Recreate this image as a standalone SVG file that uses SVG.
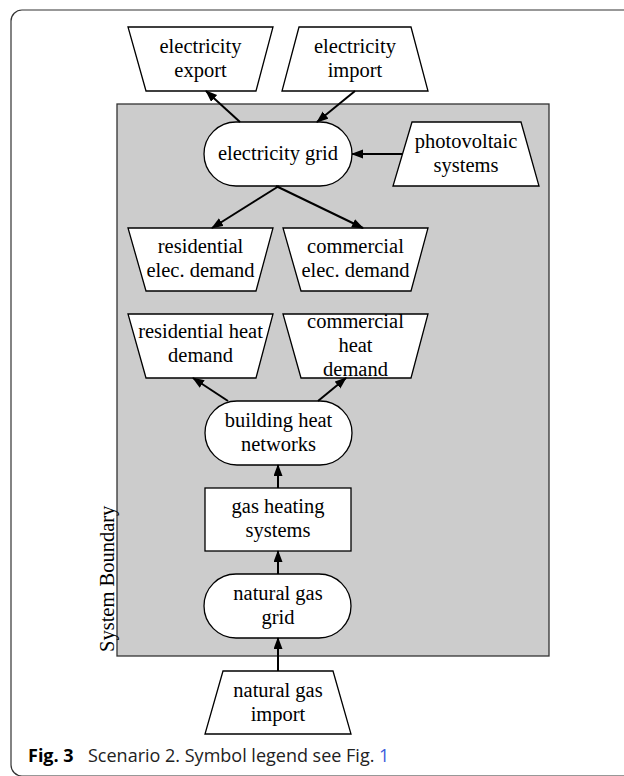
<svg xmlns="http://www.w3.org/2000/svg" width="624" height="776" viewBox="0 0 624 776">
<defs>
<style>
.n{fill:#fff;stroke:#000;stroke-width:1.3}
.t{font-family:"Liberation Serif","Times New Roman",serif;font-size:20.5px;fill:#000;text-anchor:middle}
.c line{stroke:#000;stroke-width:2;marker-end:url(#ah)}
.cap{font-family:"Open Sans","Noto Sans",sans-serif;font-size:18px;fill:#222}
</style>
<marker id="ah" markerUnits="userSpaceOnUse" markerWidth="12" markerHeight="10" refX="11" refY="4.5" orient="auto">
<path d="M0,0 L12,4.5 L0,9 Z" fill="#000"/>
</marker>
</defs>
<rect x="11" y="10" width="660" height="766" rx="11" fill="#fff" stroke="#333" stroke-width="1.2"/>
<g id="system-boundary">
<rect x="117" y="104" width="432" height="552" fill="#cccccc" stroke="#333" stroke-width="1.3"/>
<text class="t" style="text-anchor:start" transform="translate(114,652) rotate(-90)">System Boundary</text>
</g>
<g id="electricity-export">
<polygon class="n" points="128,27 273,27 256,91 146,91"/>
<text class="t" x="200.5" y="53">electricity</text>
<text class="t" x="200.5" y="77">export</text>
</g>
<g id="electricity-import">
<polygon class="n" points="299,27 411,27 428,91 282,91"/>
<text class="t" x="355" y="53">electricity</text>
<text class="t" x="355" y="77">import</text>
</g>
<g id="electricity-grid">
<rect class="n" x="204" y="122" width="148" height="64" rx="32"/>
<text class="t" x="278" y="160">electricity grid</text>
</g>
<g id="photovoltaic-systems">
<polygon class="n" points="412,122 521,122 539,186 393,186"/>
<text class="t" x="466" y="148">photovoltaic</text>
<text class="t" x="466" y="172">systems</text>
</g>
<g id="residential-elec-demand">
<polygon class="n" points="128,228 273,228 256,291 146,291"/>
<text class="t" x="200.5" y="253">residential</text>
<text class="t" x="200.5" y="277">elec. demand</text>
</g>
<g id="commercial-elec-demand">
<polygon class="n" points="283,228 428,228 411,291 301,291"/>
<text class="t" x="355.5" y="253">commercial</text>
<text class="t" x="355.5" y="277">elec. demand</text>
</g>
<g id="residential-heat-demand">
<polygon class="n" points="128,314 273,314 256,378 146,378"/>
<text class="t" x="200.5" y="338">residential heat</text>
<text class="t" x="200.5" y="362">demand</text>
</g>
<g id="commercial-heat-demand">
<polygon class="n" points="283,314 428,314 411,378 301,378"/>
<text class="t" x="355.5" y="328">commercial</text>
<text class="t" x="355.5" y="352">heat</text>
<text class="t" x="355.5" y="376">demand</text>
</g>
<g id="building-heat-networks">
<rect class="n" x="205" y="401" width="147" height="64" rx="32"/>
<text class="t" x="278.5" y="427">building heat</text>
<text class="t" x="278.5" y="451">networks</text>
</g>
<g id="gas-heating-systems">
<rect class="n" x="205" y="488" width="146" height="63"/>
<text class="t" x="278" y="513">gas heating</text>
<text class="t" x="278" y="537">systems</text>
</g>
<g id="natural-gas-grid">
<rect class="n" x="204" y="574" width="147" height="64" rx="32"/>
<text class="t" x="278" y="600">natural gas</text>
<text class="t" x="278" y="624">grid</text>
</g>
<g id="natural-gas-import">
<polygon class="n" points="223,671 333,671 351,734 205,734"/>
<text class="t" x="278" y="697">natural gas</text>
<text class="t" x="278" y="721">import</text>
</g>
<g id="connectors" class="c">
<line x1="240" y1="122" x2="206" y2="91"/>
<line x1="355" y1="91" x2="317" y2="122"/>
<line x1="402" y1="154" x2="352" y2="154"/>
<line x1="279" y1="186" x2="212" y2="228"/>
<line x1="276" y1="186" x2="363" y2="228"/>
<line x1="228" y1="401" x2="193" y2="378"/>
<line x1="318" y1="401" x2="346" y2="378"/>
<line x1="278" y1="488" x2="278" y2="465"/>
<line x1="278" y1="574" x2="278" y2="551"/>
<line x1="278" y1="671" x2="278" y2="638"/>
</g>
<g id="caption">
<text class="cap" x="28" y="762"><tspan font-weight="bold" fill="#000">Fig. 3</tspan><tspan x="88">Scenario 2. Symbol legend see Fig. </tspan><tspan fill="#3b5bdb">1</tspan></text>
</g>
</svg>
